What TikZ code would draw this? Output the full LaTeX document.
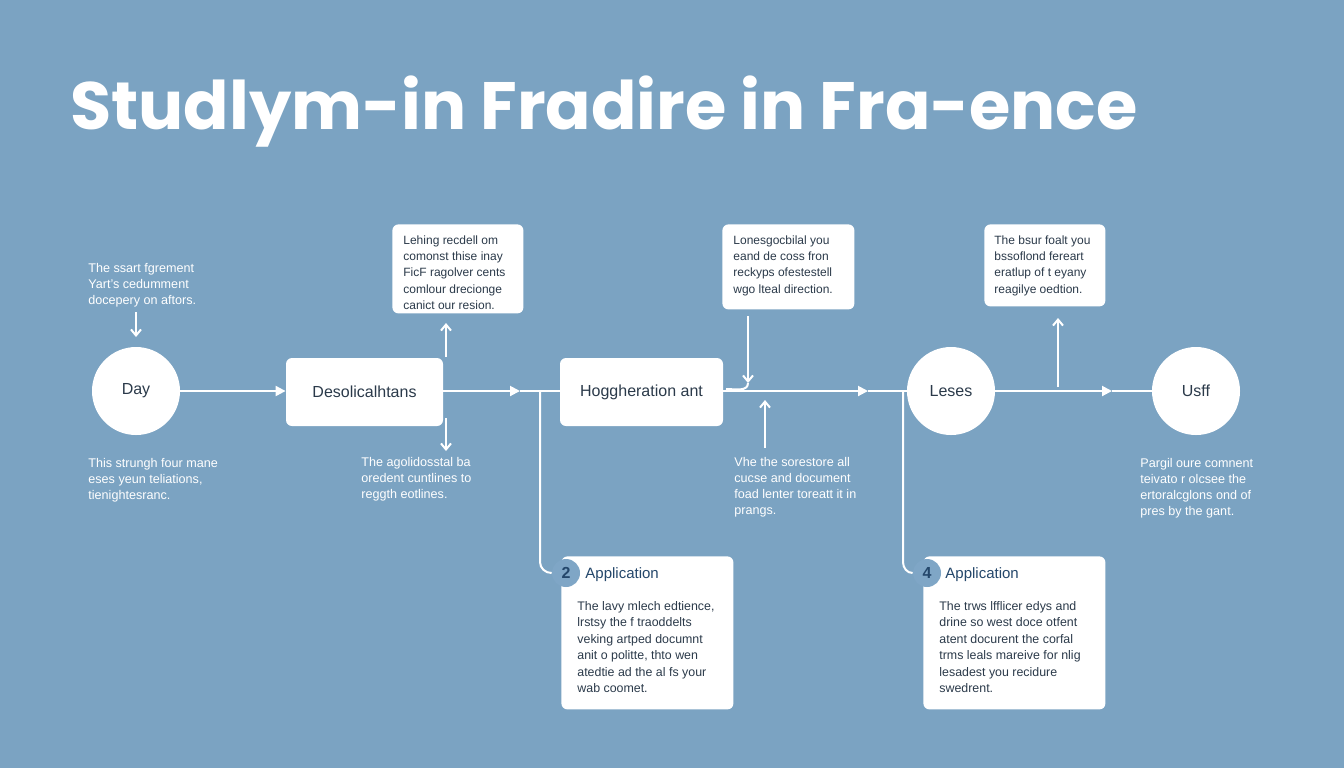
\documentclass[tikz,border=0pt]{standalone}
\usepackage{fontspec}
\setmainfont{Liberation Sans}
\newfontfamily\titlefont{Poppins}
\usetikzlibrary{arrows.meta}
\definecolor{bg}{HTML}{7BA3C2}
\definecolor{ink}{HTML}{2B3A4A}
\definecolor{badge}{HTML}{7FA6C6}
\definecolor{navy}{HTML}{24476B}
\begin{document}
\begin{tikzpicture}[x=0.5pt,y=-0.5pt,
  circ/.style={circle,fill=white,minimum size=44pt,inner sep=0pt,text=ink,font=\fontsize{8}{10}\selectfont},
  rbox/.style={rounded corners=3pt,fill=white,text=ink,font=\fontsize{8}{10}\selectfont,inner sep=0pt},
  note/.style={rounded corners=3pt,fill=white,text=ink,font=\fontsize{6}{8}\selectfont,align=left,inner sep=0pt,anchor=north west},
  free/.style={text=white,font=\fontsize{6.3}{8}\selectfont,align=left,anchor=north west,inner sep=0pt},
  ln/.style={white,line width=1pt},
  ar/.style={ln,-{Triangle[length=5pt,width=5pt]}},
  arr/.style={ln,-{Straight Barb[length=3pt,width=5pt]}}]
\fill[bg] (0,0) rectangle (1344,768);
\useasboundingbox (0,0) rectangle (1344,768);
\node[anchor=west,text=white,font=\titlefont\bfseries\fontsize{33.5}{36}\selectfont,inner sep=0pt] (title) at (70,112) {Studlym-in Fradire in Fra-ence};
% main nodes
\node[circ] (day) at (136,391) {Day};
\node[rbox,minimum width=78.5pt,minimum height=34pt] (des) at (364.5,392) {Desolicalhtans};
\node[rbox,minimum width=81.5pt,minimum height=34pt] (hog) at (641.5,392) {Hoggheration ant};
\node[circ] (les) at (951,391) {Leses};
\node[circ] (usf) at (1196,391) {Usff};
\coordinate (m1) at (520,391);
\coordinate (m2) at (868,391);
\coordinate (m3) at (1112,391);
\draw[ar] (day.east) -- (des.west|-day.east);
\draw[ar] (des.east|-m1) -- (m1);
\draw[ln] (m1) -- (hog.west|-m1);
\draw[ar] (hog.east|-m2) -- (m2);
\draw[ln] (m2) -- (les);
\draw[ar] (les) -- (m3);
\draw[ln] (m3) -- (usf);
% top notes
\node[note,minimum width=65.5pt,minimum height=44.5pt] (n1) at (392,224) {};
\node[free,text=ink,font=\fontsize{6}{8.2}\selectfont] at (403,235) {Lehing recdell om\\comonst thise inay\\FicF ragolver cents\\comlour drecionge\\canict our resion.};
\node[note,minimum width=66pt,minimum height=42.5pt] (n2) at (722,224) {};
\node[free,text=ink,font=\fontsize{6}{8.2}\selectfont] at (733,235) {Lonesgocbilal you\\eand de coss fron\\reckyps ofestestell\\wgo lteal direction.};
\node[note,minimum width=60.5pt,minimum height=41pt] (n3) at (984,224) {};
\node[free,text=ink,font=\fontsize{6}{8.2}\selectfont] at (994,235) {The bsur foalt you\\bssoflond fereart\\eratlup of t eyany\\reagilye oedtion.};
% free texts
\node[free] (t1) at (88,263) {The ssart fgrement\\Yart's cedumment\\docepery on aftors.};
\node[free] (t2) at (88,458) {This strungh four mane\\eses yeun teliations,\\tienightesranc.};
\node[free] (t3) at (361,457) {The agolidosstal ba\\oredent cuntlines to\\reggth eotlines.};
\node[free] (t4) at (734,457) {Vhe the sorestore all\\cucse and document\\foad lenter toreatt it in\\prangs.};
\node[free] (t5) at (1140,458) {Pargil oure comnent\\teivato r olcsee the\\ertoralcglons ond of\\pres by the gant.};
% small arrows
\coordinate (a1) at (136,312); \coordinate (a1e) at (136,337);
\draw[arr] (a1) -- (a1e);
\coordinate (a2) at (446,357); \coordinate (a2e) at (446,323);
\draw[arr] (a2) -- (a2e);
\coordinate (a3) at (446,418); \coordinate (a3e) at (446,451);
\draw[arr] (a3) -- (a3e);
\coordinate (a4) at (748,316); \coordinate (a4e) at (748,383);
\draw[arr] (a4) -- (a4e);
\coordinate (a4c) at (726,389);
\draw[ln] (a4e) to[out=-90,in=0] (a4c);
\coordinate (a5) at (765,448); \coordinate (a5e) at (765,400);
\draw[arr] (a5) -- (a5e);
\coordinate (a6) at (1058,387); \coordinate (a6e) at (1058,318);
\draw[arr] (a6) -- (a6e);
% bottom cards
\node[note,minimum width=86pt,minimum height=76.5pt] (c2) at (561,556) {};
\node[note,minimum width=91pt,minimum height=76.5pt] (c4) at (923,556) {};
\node[circle,fill=badge,minimum size=14pt,inner sep=0pt,text=navy,font=\bfseries\fontsize{8}{10}\selectfont] (b2) at (566,573) {2};
\node[circle,fill=badge,minimum size=14pt,inner sep=0pt,text=navy,font=\bfseries\fontsize{8}{10}\selectfont] (b4) at (927,573) {4};
\node[anchor=west,text=navy,font=\fontsize{7.5}{9}\selectfont,inner sep=0pt] at (585,575) {Application};
\node[anchor=west,text=navy,font=\fontsize{7.5}{9}\selectfont,inner sep=0pt] at (945,575) {Application};
\node[free,text=ink,font=\fontsize{6.2}{8.2}\selectfont] at (577,601) {The lavy mlech edtience,\\lrstsy the f traoddelts\\veking artped documnt\\anit o politte, thto wen\\atedtie ad the al fs your\\wab coomet.};
\node[free,text=ink,font=\fontsize{6.2}{8.2}\selectfont] at (939,601) {The trws lfflicer edys and\\drine so west doce otfent\\atent docurent the corfal\\trms leals mareive for nlig\\lesadest you recidure\\swedrent.};
% drop lines
\coordinate (d2) at (540,391); \coordinate (d4) at (903,391);
\draw[ln] (d2) -- (540,562) to[out=-90,in=180] (b2.west);
\draw[ln] (d4) -- (903,562) to[out=-90,in=180] (b4.west);
\end{tikzpicture}
\end{document}
